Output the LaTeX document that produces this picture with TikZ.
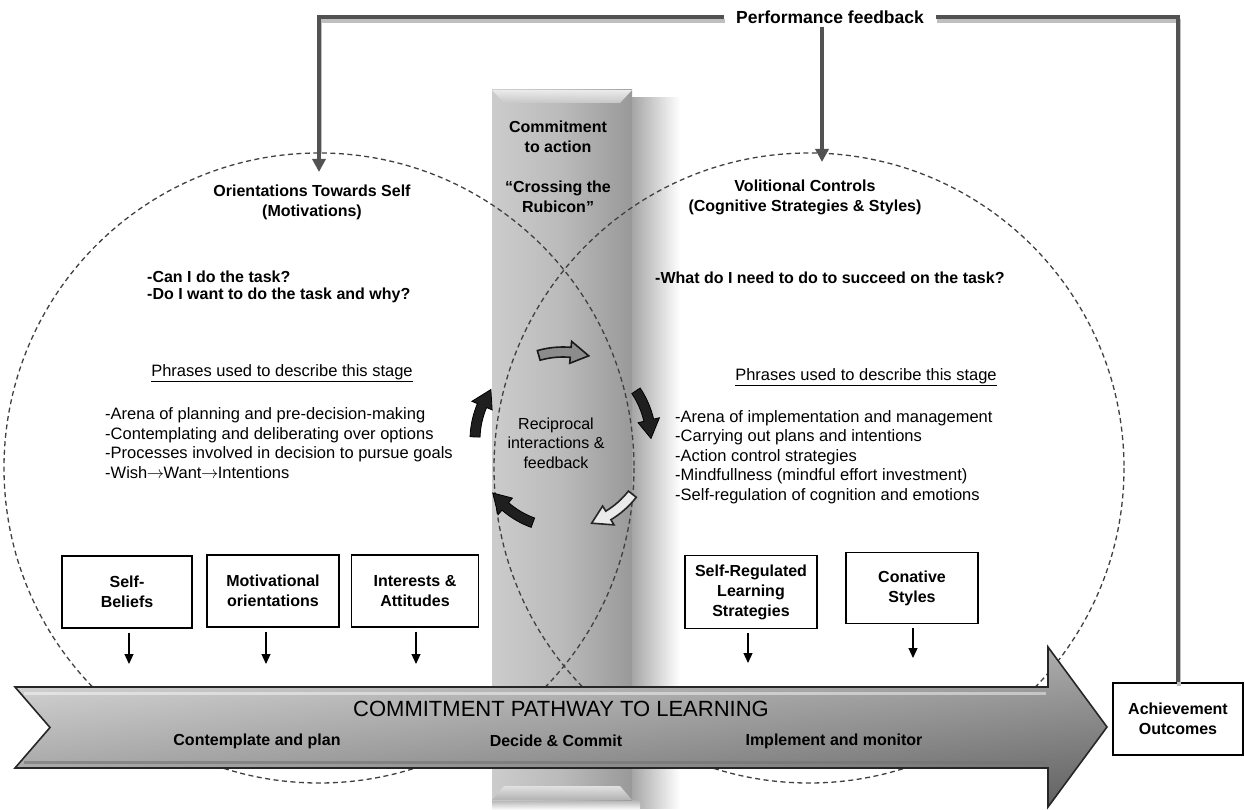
\documentclass[tikz,border=0pt]{standalone}
\usepackage{fontspec}
\setmainfont{Liberation Sans}
\usetikzlibrary{arrows.meta}
\newcommand\fs[2]{\fontsize{#1}{#2}\selectfont}
\newcommand\thento{\kern-0.5pt$\rightarrow$\kern-0.5pt}
% curved block arrow on a circle of radius 88, running clockwise from angle #1
\newcommand\roundarrow[2]{%
  \filldraw[#2] (#1:93) arc[start angle=#1, end angle=#1-21, radius=93]
    -- (#1-21:99) -- (#1-33:88) -- (#1-21:77) -- (#1-21:83)
    arc[start angle=#1-21, end angle=#1, radius=83] -- cycle;}

\begin{document}
\begin{tikzpicture}[x=1pt,y=-1pt,
  ring/.style={draw=black!75, line width=1.3pt, dash pattern=on 5pt off 3.5pt},
  srcbox/.style={draw=black, line width=1.1pt, fill=white, align=center,
    font=\bfseries\fs{16}{20}, inner sep=0pt},
  title/.style={font=\bfseries\fs{16}{20}, align=center, inner sep=0pt},
  ask/.style={font=\bfseries\fs{16}{17.5}, align=left, inner sep=0pt, anchor=west},
  body/.style={font=\fs{16.5}{19.6}, align=left, inner sep=0pt, anchor=west},
  head/.style={font=\fs{16.5}{19.6}, inner sep=0pt},
  feeds/.style={-{Triangle[length=10pt,width=9pt]}, line width=1.2pt, black},
  fbline/.style={draw=black!68, line width=4pt},
  fbshade/.style={draw=black!25, line width=4pt},
  fbtip/.style={-{Triangle[length=13pt,width=13pt]}},
  darkarrow/.style={fill=black!88, draw=black, line width=0.8pt},
  midarrow/.style={fill=black!45, draw=black!90, line width=1.6pt},
  lightarrow/.style={fill=black!8, draw=black!85, line width=1.6pt}]

\useasboundingbox (0,0) rectangle (1245,810);

% --- the vertical pillar "commitment to action" with its soft shadow
\shade[left color=black!35, right color=white] (632,98) rectangle (680,808);
\shade[top color=black!30, bottom color=white] (492,800) rectangle (640,810);
\shade[left color=black!20, right color=black!40, middle color=black!27]
  (492,90) rectangle (632,800);
\shade[top color=black!8, bottom color=black!22]
  (492,90) -- (632,90) -- (620,103) -- (504,103) -- cycle;
\shade[top color=black!12, bottom color=black!30]
  (504,786) -- (620,786) -- (632,800) -- (492,800) -- cycle;

% --- the two stage circles
\draw[ring] (319,468) circle[radius=315];
\draw[ring] (809,468) circle[radius=315];

% --- ring of five curved arrows in the overlap
\begin{scope}[shift={(563,440)}, yscale=-1]
  \roundarrow{106}{midarrow}
  \roundarrow{34}{darkarrow}
  \roundarrow{-38}{lightarrow}
  \roundarrow{-110}{darkarrow}
  \roundarrow{178}{darkarrow}
\end{scope}

% --- pillar and overlap texts
\node[title] (commit) at (558,137) {Commitment\\to action};
\node[title] (rubicon) at (558,197) {“Crossing the\\Rubicon”};
\node[font=\fs{16}{19.5}, align=center, inner sep=0pt] (recip) at (556,443)
  {Reciprocal\\interactions \&\\feedback};

% --- left stage
\node[title] (ltitle) at (312,202) {Orientations Towards Self\\(Motivations)};
\node[ask] (lask) at (147,287) {-Can I do the task?\\-Do I want to do the task and why?};
\node[head] (lhead) at (282,373) {\underline{Phrases used to describe this stage}};
\node[body] (llist) at (105,443) {-Arena of planning and pre-decision-making\\
  -Contemplating and deliberating over options\\
  -Processes involved in decision to pursue goals\\
  -Wish\thento Want\thento Intentions};

% --- right stage
\node[title] (rtitle) at (805,197) {Volitional Controls\\(Cognitive Strategies \& Styles)};
\node[ask] (rask) at (655,278) {-What do I need to do to succeed on the task?};
\node[head] (rhead) at (866,377) {\underline{Phrases used to describe this stage}};
\node[body] (rlist) at (675,457) {-Arena of implementation and management\\
  -Carrying out plans and intentions\\
  -Action control strategies\\
  -Mindfullness (mindful effort investment)\\
  -Self-regulation of cognition and emotions};

% --- source boxes feeding the pathway
\node[srcbox, minimum width=130pt, minimum height=72pt] (b1) at (127,592) {Self-\\Beliefs};
\node[srcbox, minimum width=132pt, minimum height=72pt] (b2) at (273,591) {Motivational\\orientations};
\node[srcbox, minimum width=127pt, minimum height=72pt] (b3) at (415,591) {Interests \&\\Attitudes};
\node[srcbox, minimum width=132pt, minimum height=73pt] (b4) at (751,592) {Self-Regulated\\Learning\\Strategies};
\node[srcbox, minimum width=132pt, minimum height=71pt] (b5) at (912,588) {Conative\\Styles};

\coordinate (e1) at (129,664);
\coordinate (e2) at (266,664);
\coordinate (e3) at (416,664);
\coordinate (e4) at (748,663);
\coordinate (e5) at (913,658);
\draw[feeds] (b1.south -| e1) ++(0,4) -- (e1);
\draw[feeds] (b2.south -| e2) ++(0,4) -- (e2);
\draw[feeds] (b3.south -| e3) ++(0,4) -- (e3);
\draw[feeds] (b4.south -| e4) ++(0,4) -- (e4);
\draw[feeds] (b5.south -| e5) ++(0,4) -- (e5);

% --- the pathway arrow
\path[shade, top color=black!14, middle color=black!28, bottom color=black!52]
  (15,687) -- (1048,687) -- (1048,647) -- (1107,727) -- (1048,807)
  -- (1048,768) -- (15,768) -- (50,727.5) -- cycle;
\path[shade, left color=white, right color=black, opacity=0.22]
  (15,687) -- (1048,687) -- (1048,647) -- (1107,727) -- (1048,807)
  -- (1048,768) -- (15,768) -- (50,727.5) -- cycle;
\draw[white, opacity=0.45, line width=3pt] (24,693) -- (1046,693);
\draw[black!55, opacity=0.6, line width=3pt] (24,762) -- (1046,762);
\draw[black!85, line width=1.6pt, line join=miter]
  (15,687) -- (1048,687) -- (1048,647) -- (1107,727) -- (1048,807)
  -- (1048,768) -- (15,768) -- (50,727.5) -- cycle;

\node[font=\fs{22}{26}, inner sep=0pt] (path) at (561,709) {COMMITMENT PATHWAY TO LEARNING};
\node[font=\bfseries\fs{16}{20}, inner sep=0pt] (s1) at (257,741) {Contemplate and plan};
\node[font=\bfseries\fs{16}{20}, inner sep=0pt] (s2) at (556,741) {Decide \& Commit};
\node[font=\bfseries\fs{16}{20}, inner sep=0pt] (s3) at (834,741) {Implement and monitor};

% --- outcomes and the feedback loop
\node[srcbox, minimum width=130pt, minimum height=72pt] (ach) at (1178,719) {Achievement\\Outcomes};
\node[font=\bfseries\fs{17.5}{20}, fill=white, inner xsep=12pt, inner ysep=3pt] (pf) at (830,17)
  {Performance feedback};
\coordinate (lt) at (319,172);
\coordinate (mt) at (822,162);

\begin{scope}[transform canvas={shift={(1pt,-4pt)}}]
  \draw[fbshade] (ach.north) |- (pf.east);
  \draw[fbshade] (pf.west) -| (319,150);
\end{scope}
\draw[fbline] (ach.north) |- (pf.east);
\draw[fbline, fbtip, black!68] (pf.west) -| (lt);
\draw[fbline, fbtip, black!68] (pf.south -| mt) -- (mt);
\end{tikzpicture}
\end{document}
